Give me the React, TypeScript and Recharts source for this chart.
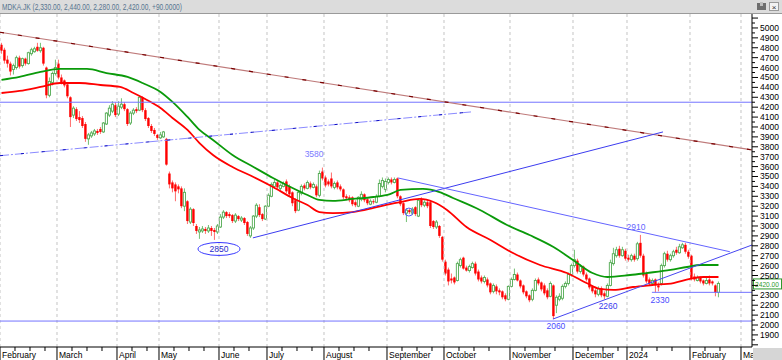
import React from 'react';
import { ComposedChart, Bar, Line, XAxis, YAxis, ReferenceLine, ReferenceDot } from 'recharts';

// daily candles, Feb 2023 .. Feb 2024
const opens = [
  4830, 4780, 4680, 4640, 4580, 4600, 4700, 4620, 4690, 4640,
  4740, 4760, 4810, 4770, 4800, 4600, 4320, 4450, 4540, 4640,
  4500, 4470, 4430, 4300, 4120, 4180, 4100, 4090, 4030, 3880,
  3910, 3930, 3960, 3980, 3950, 4030, 4120, 4160, 4220, 4130,
  4200, 4230, 4180, 4040, 4140, 4180, 4170, 4300, 4170, 4090,
  4010, 3970, 3920, 3890, 3900, 3880, 3530, 3440, 3420, 3400,
  3380, 3200, 3250, 3040, 3170, 3000, 2940, 2950, 2970, 2950,
  2980, 2960, 2940, 2990, 3090, 3140, 3120, 3110, 3050, 3100,
  3060, 3080, 3040, 2900, 2980, 3100, 3190, 3120, 3070, 3200,
  3300, 3400, 3440, 3380, 3400, 3450, 3400, 3340, 3260, 3160,
  3330, 3410, 3380, 3430, 3390, 3400, 3310, 3550, 3490, 3450,
  3480, 3390, 3440, 3400, 3370, 3300, 3290, 3290, 3240, 3200,
  3270, 3320, 3270, 3220, 3250, 3240, 3300, 3400, 3370, 3440,
  3470, 3440, 3480, 3300, 3230, 3130, 3160, 3130, 3190, 3100,
  3270, 3210, 3240, 3240, 3050, 2990, 3000, 2890, 2640, 2560,
  2470, 2480, 2450, 2600, 2680, 2580, 2550, 2580, 2620, 2540,
  2480, 2440, 2460, 2420, 2340, 2390, 2350, 2340, 2300, 2260,
  2390, 2460, 2510, 2450, 2400, 2340, 2300, 2260, 2350, 2460,
  2430, 2400, 2350, 2290, 2400, 2200, 2260, 2270, 2390, 2420,
  2510, 2600, 2650, 2540, 2590, 2510, 2470, 2390, 2350, 2310,
  2370, 2320, 2290, 2400, 2620, 2700, 2770, 2700, 2750, 2680,
  2660, 2700, 2670, 2830, 2700, 2520, 2460, 2420, 2460, 2400,
  2420, 2600, 2720, 2660, 2700, 2760, 2730, 2780, 2810, 2740,
  2700, 2490, 2450, 2480, 2450, 2420, 2460, 2440, 2400, 2330,
];
const highs = [
  4850, 4800, 4720, 4660, 4640, 4720, 4720, 4700, 4700, 4760,
  4800, 4810, 4850, 4850, 4810, 4610, 4500, 4560, 4680, 4680,
  4530, 4480, 4440, 4310, 4210, 4200, 4160, 4110, 4050, 3940,
  3960, 3980, 3980, 4000, 4050, 4150, 4220, 4260, 4250, 4260,
  4290, 4250, 4190, 4160, 4190, 4200, 4320, 4310, 4190, 4100,
  4030, 3990, 3930, 3950, 3960, 3890, 3550, 3460, 3440, 3420,
  3400, 3380, 3260, 3190, 3180, 3020, 2990, 3000, 2990, 3010,
  3000, 2980, 3020, 3120, 3160, 3150, 3140, 3120, 3130, 3110,
  3100, 3090, 3050, 3000, 3110, 3230, 3220, 3130, 3210, 3330,
  3440, 3470, 3460, 3430, 3450, 3470, 3420, 3350, 3280, 3360,
  3420, 3430, 3460, 3450, 3440, 3420, 3560, 3590, 3510, 3470,
  3540, 3450, 3460, 3420, 3380, 3320, 3310, 3300, 3260, 3300,
  3350, 3330, 3280, 3270, 3270, 3320, 3470, 3490, 3480, 3490,
  3490, 3490, 3490, 3310, 3240, 3180, 3180, 3190, 3200, 3280,
  3290, 3260, 3260, 3260, 3060, 3060, 3010, 2900, 2660, 2580,
  2520, 2490, 2640, 2680, 2690, 2600, 2610, 2640, 2640, 2560,
  2500, 2500, 2480, 2430, 2420, 2410, 2370, 2350, 2320, 2400,
  2480, 2570, 2530, 2460, 2410, 2350, 2310, 2370, 2470, 2480,
  2440, 2420, 2370, 2440, 2410, 2300, 2320, 2410, 2440, 2530,
  2620, 2760, 2670, 2610, 2600, 2530, 2480, 2400, 2370, 2390,
  2390, 2340, 2420, 2660, 2780, 2790, 2800, 2790, 2770, 2710,
  2720, 2720, 2840, 2910, 2720, 2540, 2480, 2470, 2470, 2430,
  2620, 2740, 2750, 2720, 2760, 2790, 2820, 2830, 2830, 2760,
  2710, 2520, 2500, 2490, 2460, 2480, 2500, 2450, 2410, 2440,
];
const lows = [
  4740, 4640, 4600, 4520, 4530, 4580, 4590, 4600, 4620, 4630,
  4720, 4750, 4760, 4750, 4620, 4290, 4300, 4420, 4520, 4480,
  4430, 4400, 4290, 4000, 4090, 4060, 4040, 3990, 3850, 3820,
  3890, 3910, 3920, 3930, 3940, 4020, 4100, 4140, 4100, 4110,
  4180, 4160, 4010, 4020, 4120, 4140, 4160, 4150, 4060, 3990,
  3940, 3910, 3870, 3880, 3890, 3610, 3380, 3340, 3250, 3330,
  3180, 3150, 3020, 3020, 3000, 2920, 2870, 2930, 2920, 2930,
  2900, 2860, 2920, 2980, 3070, 3080, 3080, 3030, 3030, 3050,
  3040, 3010, 2900, 2880, 2960, 3080, 3090, 3050, 3060, 3190,
  3290, 3380, 3370, 3360, 3390, 3330, 3300, 3200, 3130, 3150,
  3310, 3360, 3370, 3370, 3380, 3290, 3290, 3460, 3390, 3400,
  3380, 3370, 3370, 3350, 3270, 3260, 3240, 3200, 3190, 3190,
  3250, 3240, 3210, 3210, 3220, 3230, 3290, 3380, 3340, 3420,
  3420, 3430, 3280, 3200, 3110, 3040, 3120, 3110, 3100, 3090,
  3190, 3190, 3180, 2980, 2970, 2970, 2880, 2640, 2500, 2400,
  2420, 2410, 2440, 2580, 2560, 2540, 2530, 2570, 2500, 2440,
  2420, 2420, 2380, 2310, 2320, 2310, 2300, 2260, 2240, 2250,
  2380, 2450, 2440, 2370, 2310, 2270, 2230, 2240, 2340, 2400,
  2340, 2300, 2260, 2280, 2060, 2120, 2240, 2250, 2370, 2400,
  2490, 2580, 2520, 2520, 2490, 2440, 2360, 2320, 2280, 2290,
  2280, 2260, 2280, 2390, 2600, 2680, 2680, 2690, 2650, 2640,
  2640, 2640, 2650, 2680, 2480, 2420, 2400, 2400, 2330, 2340,
  2400, 2580, 2640, 2640, 2680, 2710, 2720, 2770, 2720, 2670,
  2450, 2440, 2440, 2420, 2400, 2410, 2400, 2400, 2290, 2280,
];
const closes = [
  4770, 4670, 4640, 4560, 4620, 4700, 4610, 4690, 4640, 4750,
  4780, 4790, 4770, 4800, 4640, 4320, 4460, 4540, 4600, 4500,
  4450, 4420, 4310, 4100, 4190, 4080, 4070, 4010, 3880, 3920,
  3940, 3960, 3940, 3950, 4040, 4140, 4190, 4230, 4120, 4210,
  4230, 4180, 4030, 4140, 4170, 4160, 4300, 4170, 4080, 4010,
  3960, 3930, 3890, 3920, 3950, 3620, 3420, 3380, 3350, 3370,
  3200, 3340, 3050, 3170, 3030, 2950, 2960, 2970, 2950, 2980,
  2950, 2940, 3000, 3090, 3140, 3100, 3100, 3050, 3110, 3070,
  3080, 3030, 2920, 2980, 3100, 3210, 3110, 3070, 3200, 3310,
  3420, 3440, 3390, 3410, 3430, 3350, 3320, 3230, 3150, 3340,
  3400, 3380, 3440, 3390, 3420, 3310, 3530, 3480, 3410, 3420,
  3400, 3430, 3390, 3370, 3290, 3280, 3260, 3220, 3210, 3290,
  3320, 3260, 3230, 3250, 3240, 3300, 3430, 3460, 3450, 3470,
  3440, 3470, 3300, 3220, 3130, 3160, 3140, 3170, 3120, 3260,
  3210, 3240, 3200, 3000, 2990, 3040, 2900, 2660, 2520, 2440,
  2450, 2430, 2620, 2660, 2570, 2550, 2590, 2620, 2520, 2460,
  2440, 2480, 2400, 2330, 2400, 2340, 2330, 2280, 2260, 2390,
  2460, 2510, 2450, 2390, 2330, 2290, 2250, 2350, 2450, 2420,
  2360, 2320, 2280, 2420, 2090, 2280, 2290, 2390, 2420, 2510,
  2600, 2660, 2540, 2590, 2510, 2460, 2380, 2340, 2310, 2370,
  2300, 2290, 2400, 2630, 2720, 2760, 2700, 2760, 2670, 2660,
  2700, 2660, 2820, 2700, 2500, 2440, 2420, 2450, 2400, 2380,
  2600, 2720, 2660, 2700, 2740, 2730, 2790, 2810, 2740, 2690,
  2470, 2460, 2480, 2440, 2420, 2450, 2420, 2420, 2330, 2420,
];

// moving averages, sampled along the curves
const slowMaAt = [0, 6, 13, 19.5, 28.5, 35, 42, 47, 53, 57, 62, 66, 70.5, 77, 84, 90.5, 97, 102, 106, 110.5, 117, 124, 129.5, 133, 140.5, 146, 150.5, 159.5, 168.5, 176, 184, 190.5, 197, 202, 209.5, 215, 223, 228.5, 233, 239];
const slowMa = [4475, 4505, 4556, 4586, 4586, 4545, 4505, 4444, 4354, 4253, 4101, 3970, 3869, 3717, 3596, 3485, 3384, 3313, 3263, 3253, 3273, 3293, 3323, 3364, 3374, 3343, 3283, 3162, 3010, 2909, 2788, 2657, 2525, 2485, 2505, 2525, 2556, 2586, 2606, 2606];
const fastMaAt = [0, 6, 13, 19.5, 26, 33, 39.5, 44, 48.5, 53, 57, 62, 66, 70.5, 77, 84, 90.5, 97, 102, 106, 110.5, 117, 124, 129.5, 133, 139.5, 144, 148.5, 155, 163, 170.5, 179.5, 188.5, 195, 199.5, 204, 210.5, 217, 224, 229.5, 234, 239];
const fastMa = [4343, 4364, 4404, 4444, 4444, 4424, 4404, 4343, 4273, 4192, 4091, 3970, 3838, 3717, 3596, 3495, 3394, 3283, 3212, 3141, 3131, 3141, 3182, 3222, 3242, 3273, 3242, 3162, 2990, 2859, 2727, 2606, 2525, 2424, 2364, 2354, 2384, 2404, 2424, 2465, 2485, 2485];

const monthTicks = [-0.5, 18.5, 38.5, 52.5, 72.5, 88.5, 107.5, 128.5, 147.5, 169.5, 190.5, 208.5, 229.5, 246.5];
const monthLabels = ['February', 'March', 'April', 'May', 'June', 'July', 'August', 'September', 'October', 'November', 'December', '2024', 'February', 'March'];

const title = 'MDKA.JK (2,330.00, 2,440.00, 2,280.00, 2,420.00, +90.0000)';
const lastPrice = 2420;

const X_MIN = -0.5;
const X_MAX = 250.17;

const candles = closes.map((c, i) => ({ i, o: opens[i], h: highs[i], l: lows[i], c, range: [lows[i], highs[i]] }));
const slowData = slowMaAt.map((i, k) => ({ i, v: slowMa[k] }));
const fastData = fastMaAt.map((i, k) => ({ i, v: fastMa[k] }));

const weekTicks: number[] = [];
monthTicks.forEach((m, k) => {
  const next = monthTicks[k + 1] ?? X_MAX;
  for (let t = m + 5; t < next - 2; t += 5) weekTicks.push(t);
});
const xTicks = [...monthTicks, ...weekTicks].sort((a, b) => a - b);

const priceTicks: number[] = [];
for (let v = 1800; v <= 5100; v += 50) priceTicks.push(v);

const FONT = '"Liberation Sans", Arial, sans-serif';

function Candle(props: any) {
  const { x, y, width, height, payload } = props;
  if (!payload) return null;
  const { o, h, l, c } = payload;
  const cx = x + width / 2;
  const top = Math.min(y, y + height);
  const span = Math.abs(height);
  const toY = (v: number) => (h === l ? top : top + ((h - v) / (h - l)) * span);
  const up = c >= o;
  const b1 = toY(Math.max(o, c));
  const b2 = toY(Math.min(o, c));
  return (
    <g>
      <line x1={cx} x2={cx} y1={top} y2={top + span} stroke={up ? '#72c072' : '#ff6a6a'} strokeWidth={1} />
      {up ? (
        <rect x={cx - 1.1} y={b1} width={2.2} height={Math.max(1, b2 - b1)} fill="#ffffff" stroke="#52aa52" strokeWidth={0.9} />
      ) : (
        <rect x={cx - 1.2} y={b1} width={2.4} height={Math.max(1, b2 - b1)} fill="#ff0000" />
      )}
    </g>
  );
}

function PriceTick({ x, y, payload }: any) {
  const v = payload.value;
  const major = v % 100 === 0;
  // the 2400 label sits under the last-price box
  const showLabel = major && v >= 1900 && v <= 5000 && v !== 2400;
  return (
    <g>
      <line x1={x} x2={x + (major ? 6 : 3)} y1={y} y2={y} stroke="#000" />
      {showLabel && (
        <text x={x + 8} y={y + 3} fontSize={8.5} fill="#000" fontFamily={FONT}>{v}</text>
      )}
    </g>
  );
}

function DateTick({ x, y, payload }: any) {
  const k = monthTicks.indexOf(payload.value);
  if (k < 0) return <line x1={x} x2={x} y1={y} y2={y + 4} stroke="#000" />;
  return (
    <g>
      <line x1={x} x2={x} y1={y} y2={y + 13} stroke="#000" />
      <text x={x + 2} y={y + 11} fontSize={8.5} fill="#000" fontFamily={FONT}>{monthLabels[k]}</text>
    </g>
  );
}

const note = (text: string, color: string) => (p: any) => (
  <text x={p.cx} y={p.cy + 3} textAnchor="middle" fontSize={8.5} fill={color} fontFamily={FONT}>{text}</text>
);

export default function App() {
  return (
    <div style={{ position: 'absolute', left: 0, top: 0, width: 782, height: 360, background: '#fff', fontFamily: FONT, overflow: 'hidden' }}>
      <ComposedChart width={782} height={360} data={candles} margin={{ top: 14, right: 0, bottom: 0, left: 0 }}>
        <XAxis
          dataKey="i"
          type="number"
          domain={[X_MIN, X_MAX]}
          allowDataOverflow
          ticks={xTicks}
          interval={0}
          tick={<DateTick />}
          tickLine={false}
          tickSize={0}
          tickMargin={0}
          height={13}
          axisLine={{ stroke: '#000' }}
        />
        <YAxis
          orientation="right"
          type="number"
          domain={[1778, 5141]}
          allowDataOverflow
          ticks={priceTicks}
          interval={0}
          tick={<PriceTick />}
          tickLine={false}
          tickSize={0}
          tickMargin={0}
          width={30}
          axisLine={{ stroke: '#000' }}
        />
        {monthTicks.map((m) => (
          <ReferenceLine key={'g' + m} x={m} stroke="#c4c4c4" strokeDasharray="3 3" />
        ))}

        <Bar dataKey="range" barSize={3} shape={<Candle />} isAnimationActive={false} />

        <Line data={slowData} dataKey="v" type="monotone" stroke="#0a9a0a" strokeWidth={1.8} dot={false} isAnimationActive={false} />
        <Line data={fastData} dataKey="v" type="monotone" stroke="#ff0000" strokeWidth={1.8} dot={false} isAnimationActive={false} />

        {/* horizontal levels */}
        <ReferenceLine y={4250} stroke="#7373ff" />
        <ReferenceLine y={2040} stroke="#7373ff" />
        <ReferenceLine segment={[{ x: 216.8, y: 2330 }, { x: X_MAX, y: 2330 }]} stroke="#7373ff" />

        {/* long resistance line */}
        <ReferenceLine segment={[{ x: X_MIN, y: 4957 }, { x: X_MAX, y: 3768 }]} stroke="#bf7a7a" strokeWidth={1.2} />
        <ReferenceLine segment={[{ x: X_MIN, y: 4957 }, { x: X_MAX, y: 3768 }]} stroke="#7a0000" strokeWidth={1.2} strokeDasharray="4 14" />

        {/* dash-dot channel line */}
        <ReferenceLine segment={[{ x: X_MIN, y: 3710 }, { x: 156.5, y: 4152 }]} stroke="#8a8aff" strokeDasharray="9 2 2 2" />
        <ReferenceLine segment={[{ x: X_MIN, y: 3710 }, { x: 156.5, y: 4152 }]} stroke="#1010c0" strokeDasharray="3 18" />

        {/* trend lines */}
        <ReferenceLine segment={[{ x: 83.8, y: 2880 }, { x: 220.5, y: 3950 }]} stroke="#3c3cf0" />
        <ReferenceLine segment={[{ x: 132.2, y: 3485 }, { x: 242.8, y: 2740 }]} stroke="#6464ff" />
        <ReferenceLine segment={[{ x: 183.8, y: 2060 }, { x: X_MAX, y: 2808 }]} stroke="#4646f0" />

        {/* annotations */}
        <ReferenceDot
          x={72.5}
          y={2768}
          r={0}
          shape={(p: any) => (
            <g>
              <ellipse cx={p.cx} cy={p.cy} rx={21} ry={6.5} fill="none" stroke="#3a3aff" />
              <text x={p.cx} y={p.cy + 3} textAnchor="middle" fontSize={8.5} fill="#2a2acc" fontFamily={FONT}>2850</text>
            </g>
          )}
        />
        <ReferenceDot x={104.2} y={3727} r={0} shape={note('3580', '#7b7bff')} />
        <ReferenceDot x={211.5} y={2990} r={0} shape={note('2910', '#6464ff')} />
        <ReferenceDot x={202.2} y={2192} r={0} shape={note('2260', '#3a3aee')} />
        <ReferenceDot x={219.5} y={2253} r={0} shape={note('2330', '#4a4aff')} />
        <ReferenceDot x={184.8} y={1990} r={0} shape={note('2060', '#4a4aff')} />
        <ReferenceDot x={135.8} y={3141} r={4} fill="none" stroke="#5a5aff" />

        <ReferenceDot
          x={X_MAX}
          y={lastPrice}
          r={0}
          ifOverflow="visible"
          shape={(p: any) => (
            <g>
              <rect x={p.cx + 1.5} y={p.cy - 4.5} width={28} height={10} fill="#fff" stroke="#2e9a2e" />
              <text x={p.cx + 3} y={p.cy + 3.5} fontSize={7.5} fill="#2e9a2e" fontFamily={FONT} textLength={24} lengthAdjust="spacingAndGlyphs">2420.00</text>
            </g>
          )}
        />
      </ComposedChart>

      <svg width={782} height={360} style={{ position: 'absolute', left: 0, top: 0, pointerEvents: 'none' }}>
        <rect x={0} y={0} width={782} height={13} fill="#dcdcdc" />
        <line x1={0} x2={782} y1={13.5} y2={13.5} stroke="#9a9a9a" />
        <text x={2} y={10} fontSize={9} fill="#56748f" fontFamily={FONT} textLength={180} lengthAdjust="spacingAndGlyphs">{title}</text>
        <rect x={757} y={3} width={9} height={7} fill="#6e6e6e" />
        <rect x={760} y={2} width={3} height={4} fill="#bdbdbd" />
        <rect x={769.5} y={2.5} width={9} height={8} fill="#f2f2f2" stroke="#9a9a9a" />
        <text x={774} y={9.5} textAnchor="middle" fontSize={8} fill="#333" fontFamily={FONT}>×</text>
        <rect x={753} y={348} width={29} height={12} fill="#d6d6d6" />
      </svg>
    </div>
  );
}
